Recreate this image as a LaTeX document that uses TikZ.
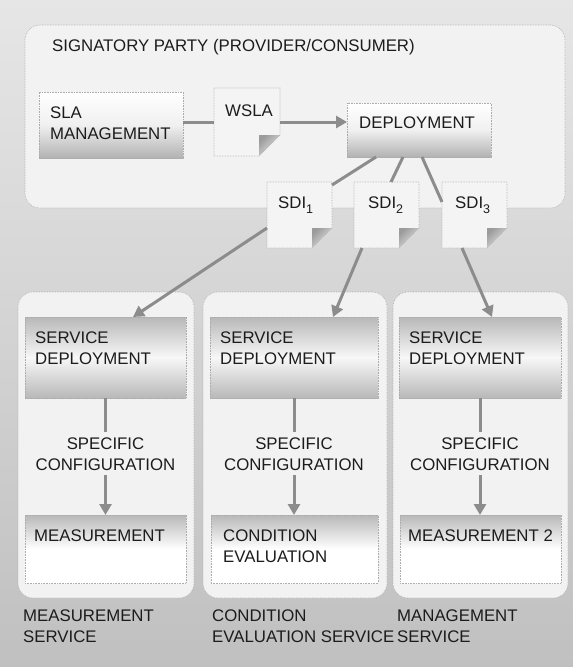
\documentclass[tikz,border=0pt]{standalone}
\usepackage{fontspec}
\setmainfont{Liberation Sans}
\usetikzlibrary{arrows.meta,calc}

\definecolor{bgtop}{RGB}{230,230,230}
\definecolor{bgbot}{RGB}{192,192,192}
\definecolor{panelfill}{RGB}{242,242,242}
\definecolor{edgegray}{RGB}{172,172,172}
\definecolor{wiregray}{RGB}{140,140,140}
\definecolor{boxdark}{RGB}{178,178,178}
\definecolor{banddark}{RGB}{184,184,184}
\definecolor{boxmid}{RGB}{240,240,240}
\definecolor{paperfill}{RGB}{244,244,244}
\definecolor{flapdark}{RGB}{155,155,155}
\definecolor{flaplight}{RGB}{234,234,234}
\definecolor{inktext}{RGB}{28,28,28}

% folded-corner sheet drawn around an (invisible) named node
\newcommand\paperdoc[2]{%
  \fill[paperfill] (#1.north west) -- (#1.north east) -- ([yshift=#2]#1.south east)
     -- ([xshift=-#2]#1.south east) -- (#1.south west) -- cycle;
  \shade[top color=flapdark, bottom color=flaplight, shading angle=45]
     ([xshift=-#2,yshift=#2]#1.south east) -- ([yshift=#2]#1.south east)
     -- ([xshift=-#2]#1.south east) -- cycle;
  \draw[edgeline] (#1.north west) -- (#1.north east) -- ([yshift=#2]#1.south east)
     -- ([xshift=-#2]#1.south east) -- (#1.south west) -- cycle;
}

\begin{document}
\begin{tikzpicture}[x=1pt, y=-1pt,
  font=\fontsize{16.8}{21}\selectfont,
  edgeline/.style={draw=edgegray, densely dotted, line width=0.6pt},
  holder/.style={inner sep=0pt, outer sep=0pt, anchor=north west},
  panelbox/.style={holder, edgeline, fill=panelfill, rounded corners=15pt},
  plainbox/.style={holder, edgeline},
  upfade/.style={plainbox, top color=white, bottom color=boxdark, middle color=boxmid},
  bandfade/.style={plainbox, top color=banddark, bottom color=banddark, middle color=white!97!black},
  downfade/.style={plainbox, top color=banddark, bottom color=white, middle color=white},
  docholder/.style={holder, minimum width=65pt, minimum height=66pt},
  txt/.style={inner sep=0pt, anchor=north west, align=left, text=inktext},
  ctxt/.style={inner sep=0pt, anchor=north, align=center, text=inktext},
  wire/.style={draw=wiregray, line width=3pt},
  arrowwire/.style={wire, -{Triangle[length=11pt,width=12pt]}}
]
\useasboundingbox (0,0) rectangle (573,667);
\shade[top color=bgtop, bottom color=bgbot] (0,0) rectangle (573,667);

% ---- signatory party ----
\node[panelbox, minimum width=540pt, minimum height=183pt] (party) at (25,25) {};
\node[txt] (partytitle) at (52,39) {SIGNATORY PARTY (PROVIDER/CONSUMER)};

\node[upfade, minimum width=144pt, minimum height=66pt] (sla) at (39,92) {};
\node[txt] (slatext) at (50,107) {SLA\\MANAGEMENT};

\node[docholder, minimum width=66pt, minimum height=68pt] (wsla) at (214,88) {};
\paperdoc{wsla}{21pt}
\node[txt] (wslatext) at (225,105) {WSLA};

\node[upfade, minimum width=144pt, minimum height=54pt] (dep) at (347,103) {};
\node[txt] (deptext) at (359,117) {DEPLOYMENT};

% ---- service panels ----
\node[panelbox, minimum width=176pt, minimum height=306pt] (p1) at (18,292) {};
\node[panelbox, minimum width=184pt, minimum height=306pt] (p2) at (203,292) {};
\node[panelbox, minimum width=175pt, minimum height=306pt] (p3) at (393,292) {};

\node[bandfade, minimum width=161pt, minimum height=81pt] (sd1) at (25,317) {};
\node[bandfade, minimum width=168pt, minimum height=81pt] (sd2) at (210,317) {};
\node[bandfade, minimum width=162pt, minimum height=81pt] (sd3) at (399,317) {};
\node[txt] (sd1text) at (35,332) {SERVICE\\DEPLOYMENT};
\node[txt] (sd2text) at (220,332) {SERVICE\\DEPLOYMENT};
\node[txt] (sd3text) at (409,332) {SERVICE\\DEPLOYMENT};

\node[ctxt] (cfg1) at (105.5,438) {SPECIFIC\\CONFIGURATION};
\node[ctxt] (cfg2) at (294,438) {SPECIFIC\\CONFIGURATION};
\node[ctxt] (cfg3) at (480,438) {SPECIFIC\\CONFIGURATION};

\node[downfade, minimum width=161pt, minimum height=68pt] (m1) at (25,515) {};
\node[downfade, minimum width=167pt, minimum height=68pt] (m2) at (211,515) {};
\node[downfade, minimum width=161pt, minimum height=68pt] (m3) at (400,515) {};
\node[txt] (m1text) at (34,530) {MEASUREMENT};
\node[txt] (m2text) at (223,530) {CONDITION\\EVALUATION};
\node[txt] (m3text) at (408,530) {MEASUREMENT 2};

\node[txt] (l1) at (23,610) {MEASUREMENT\\SERVICE};
\node[txt] (l2) at (212,610) {CONDITION\\EVALUATION SERVICE};
\node[txt] (l3) at (397,610) {MANAGEMENT\\SERVICE};

% ---- service deployment instructions ----
\node[docholder] (sdi1) at (267,182) {};
\node[docholder] (sdi2) at (354,182) {};
\node[docholder] (sdi3) at (442,182) {};
\paperdoc{sdi1}{20pt}
\paperdoc{sdi2}{20pt}
\paperdoc{sdi3}{20pt}
\node[txt] (sdi1text) at (278,197) {SDI\raisebox{-4.5pt}{\fontsize{12.5}{12.5}\selectfont 1}};
\node[txt] (sdi2text) at (368,197) {SDI\raisebox{-4.5pt}{\fontsize{12.5}{12.5}\selectfont 2}};
\node[txt] (sdi3text) at (455,197) {SDI\raisebox{-4.5pt}{\fontsize{12.5}{12.5}\selectfont 3}};

% ---- connectors ----
\draw[wire] (sla.east |- wsla.west) -- (wsla.west);
\draw[arrowwire] (wsla.east) -- (dep.west |- wsla.east);

\draw[wire] ([xshift=29pt]dep.south west) -- ([yshift=-3pt]sdi1.north east);
\draw[wire] ([xshift=56pt]dep.south west) -- ([xshift=37pt]sdi2.north west);
\draw[wire] ([xshift=75pt]dep.south west) -- ([yshift=-20pt]sdi3.north west);

\draw[arrowwire] ([yshift=-46pt]sdi1.north west) -- ([xshift=108pt]sd1.north west);
\draw[arrowwire] ([xshift=8pt]sdi2.south west) -- ([xshift=123pt]sd2.north west);
\draw[arrowwire] ([xshift=20pt]sdi3.south west) -- ([xshift=93pt]sd3.north west);

\foreach \i in {1,2,3}{
  \draw[wire] (sd\i.south) -- ([yshift=6pt]cfg\i.north);
  \draw[arrowwire] ([yshift=-4pt]cfg\i.south) -- (cfg\i.south |- m\i.north);
}
\end{tikzpicture}
\end{document}
